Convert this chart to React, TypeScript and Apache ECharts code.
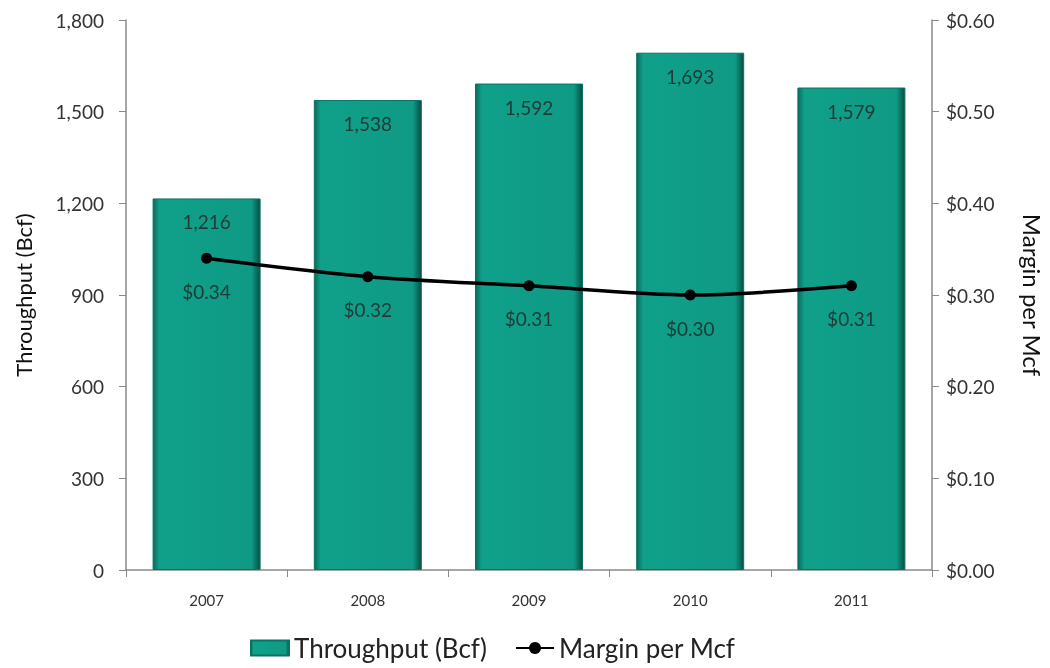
import React, { useEffect, useRef } from "react";
import * as echarts from "echarts";

const years = ["2007", "2008", "2009", "2010", "2011"];
const throughput = [1216, 1538, 1592, 1693, 1579];
const margin = [0.34, 0.32, 0.31, 0.3, 0.31];

const FONT = "Lato, 'Open Sans', sans-serif";

export default function App() {
  const ref = useRef<HTMLDivElement>(null);
  useEffect(() => {
    const chart = echarts.init(ref.current!, undefined, { renderer: "svg" });
    const barColor = new echarts.graphic.LinearGradient(0, 0, 1, 0, [
      { offset: 0, color: "#0a6a5b" },
      { offset: 0.06, color: "#10a08a" },
      { offset: 0.92, color: "#0f9a85" },
      { offset: 1, color: "#064e43" },
    ]);
    chart.setOption({
      animation: false,
      textStyle: { fontFamily: FONT },
      grid: { left: 126, right: 118, top: 20, bottom: 98, outerBoundsMode: "none", containLabel: false },
      legend: {
        top: 630,
        left: 245,
        itemGap: 28,
        itemWidth: 38,
        itemHeight: 15,
        textStyle: { fontSize: 26, color: "#222", fontFamily: FONT },
        data: [
          { name: "Throughput (Bcf)", icon: "rect" },
          { name: "Margin per Mcf" },
        ],
      },
      xAxis: {
        type: "category",
        data: years,
        axisLine: { lineStyle: { color: "#8a8a8a", width: 1.5 } },
        axisTick: { show: true, length: 7, lineStyle: { color: "#8a8a8a" } },
        axisLabel: { fontSize: 15, color: "#333", margin: 22, fontFamily: FONT },
      },
      yAxis: [
        {
          type: "value",
          min: 0,
          max: 1800,
          interval: 300,
          name: "Throughput (Bcf)",
          nameLocation: "middle",
          nameGap: 92,
          nameTextStyle: { fontSize: 22, color: "#111", fontFamily: FONT },
          axisLine: { show: true, lineStyle: { color: "#8a8a8a", width: 1.5 } },
          axisTick: { show: true, length: 7, lineStyle: { color: "#8a8a8a" } },
          splitLine: { show: false },
          axisLabel: {
            fontSize: 19,
            color: "#333",
            margin: 22,
            fontFamily: FONT,
            formatter: (v: number) => v.toLocaleString("en-US"),
          },
        },
        {
          type: "value",
          min: 0,
          max: 0.6,
          interval: 0.1,
          name: "Margin per Mcf",
          nameLocation: "middle",
          nameGap: 88,
          nameRotate: -90,
          nameTextStyle: { fontSize: 24, color: "#111", fontFamily: FONT },
          axisLine: { show: true, lineStyle: { color: "#8a8a8a", width: 1.5 } },
          axisTick: { show: true, length: 7, lineStyle: { color: "#8a8a8a" } },
          splitLine: { show: false },
          axisLabel: {
            fontSize: 19,
            color: "#333",
            margin: 14,
            fontFamily: FONT,
            formatter: (v: number) => "$" + v.toFixed(2),
          },
        },
      ],
      series: [
        {
          name: "Throughput (Bcf)",
          type: "bar",
          data: throughput,
          barWidth: "67%",
          itemStyle: { color: barColor, borderColor: "#0a7363", borderWidth: 1 },
          label: {
            show: true,
            position: "insideTop",
            distance: 14,
            fontSize: 19,
            color: "#1e3b38",
            fontFamily: FONT,
            formatter: (p: any) => Number(p.value).toLocaleString("en-US"),
          },
        },
        {
          name: "Margin per Mcf",
          type: "line",
          yAxisIndex: 1,
          data: margin,
          smooth: 0.3,
          symbol: "circle",
          symbolSize: 11,
          lineStyle: { color: "#000", width: 3.5 },
          itemStyle: { color: "#000" },
          label: {
            show: true,
            position: "bottom",
            distance: 18,
            fontSize: 19,
            color: "#1e3b38",
            fontFamily: FONT,
            formatter: (p: any) => "$" + Number(p.value).toFixed(2),
          },
        },
      ],
    });
    return () => chart.dispose();
  }, []);
  return (
    <div
      ref={ref}
      style={{ position: "fixed", left: 0, top: 0, width: 1050, height: 668 }}
    />
  );
}
